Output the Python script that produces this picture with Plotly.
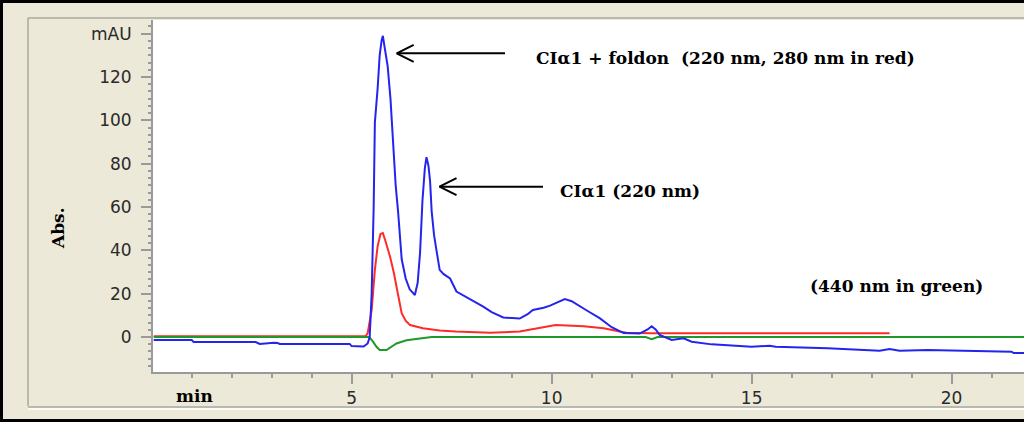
import plotly.graph_objects as go

# ---- data (retention time in min, absorbance in mAU) ----
t_220 = [0.05, 1.0, 1.05, 2.6, 2.7, 3.05, 3.15, 3.2, 4.95, 5.0, 5.3, 5.4, 5.45, 5.5, 5.55, 5.58,
         5.65, 5.7, 5.75, 5.78, 5.83, 5.9, 5.97, 6.03, 6.1, 6.16, 6.2, 6.25, 6.35, 6.45, 6.58,
         6.65, 6.71, 6.77, 6.83, 6.87, 6.92, 6.96, 7.0, 7.06, 7.12, 7.2, 7.3, 7.46, 7.62, 7.87,
         8.1, 8.29, 8.5, 8.79, 9.2, 9.4, 9.53, 9.8, 9.96, 10.15, 10.33, 10.5, 10.71, 10.9, 11.2,
         11.5, 11.8, 12.2, 12.4, 12.5, 12.6, 12.7, 13.0, 13.2, 13.3, 13.5, 14.0, 15.0, 15.3,
         15.45, 15.6, 16.9, 18.2, 18.45, 18.7, 19.4, 21.5, 21.55, 21.85]
a_220 = [-1.4, -1.4, -2.3, -2.3, -3.2, -2.6, -2.8, -3.2, -3.2, -4.2, -4.4, -3.0, 0, 20, 60, 99,
         115, 130, 137, 139, 133, 125, 110, 90, 70, 58, 48, 36, 27, 22, 19.4,
         25, 39, 63, 78, 83, 79, 72, 58, 47, 40, 31, 29, 27, 21, 18.5,
         16, 14, 11.5, 9, 8.5, 10.5, 12.5, 13.5, 14.5, 16, 17.5, 16.5, 14, 12, 8.7,
         4.5, 1.8, 1.6, 3.5, 5, 3.5, 1, -1.4, -0.8, -0.6, -2.2, -3.4, -4.5, -4.0,
         -4.0, -4.5, -5.2, -6.3, -5.5, -6.3, -6.0, -6.8, -7.4, -7.4]

t_280 = [0.05, 5.35, 5.4, 5.5, 5.58, 5.65, 5.72, 5.78, 5.85, 5.96, 6.05, 6.12, 6.25, 6.35, 6.46,
         6.78, 7.2, 7.6, 8.46, 9.2, 9.7, 10.1, 10.8, 11.3, 11.7, 11.87, 12.5, 18.45]
a_280 = [0.3, 0.3, 1.8, 12.5, 31, 42, 47.5, 48, 44, 37, 30, 23, 11, 7.5, 5.5,
         4, 3, 2.5, 2, 2.5, 4, 5.5, 5, 4, 2.5, 2, 1.7, 1.7]

t_440 = [0.05, 5.42, 5.46, 5.53, 5.62, 5.7, 5.87, 6.0, 6.12, 6.37, 6.87, 7.0, 12.35, 12.5, 12.65, 21.85]
a_440 = [0, 0, -0.5, -2, -4.5, -6, -6, -4.5, -3, -1.5, -0.3, 0, 0, -1, 0, 0]

y_tickvals = [0, 20, 40, 60, 80, 100, 120, 140]
y_ticktext = ["0", "20", "40", "60", "80", "100", "120", "mAU"]
x_tickvals = [5, 10, 15, 20]
x_ticktext = ["5", "10", "15", "20"]

# ---- layout geometry helpers (pixel -> paper) ----
L, T, W, H = 153, 20, 871, 352
def px(x):
    return (x - L) / W
def py(y):
    return (T + H - y) / H

fig = go.Figure()
fig.add_trace(go.Scatter(x=t_280, y=a_280, mode="lines", line=dict(color="#ff2a2a", width=2),
                         name="280 nm", showlegend=False))
fig.add_trace(go.Scatter(x=t_440, y=a_440, mode="lines", line=dict(color="#1f9a2a", width=2),
                         name="440 nm", showlegend=False))
fig.add_trace(go.Scatter(x=t_220, y=a_220, mode="lines", line=dict(color="#2424ee", width=2),
                         name="220 nm", showlegend=False))

tickfont = dict(family="DejaVu Sans", size=17, color="#2a2a2a")
fig.update_xaxes(range=[0.0325, 21.81], tickvals=x_tickvals, ticktext=x_ticktext,
                 showgrid=False, zeroline=False, showline=True, linecolor="#9a9a9a", linewidth=2,
                 ticks="outside", ticklen=10, tickwidth=2, tickcolor="#9a9a9a",
                 minor=dict(dtick=1, tick0=0, ticklen=4, tickwidth=2, tickcolor="#9a9a9a", ticks="outside"),
                 tickfont=tickfont, ticklabelstandoff=0)
fig.update_yaxes(range=[-16.15, 146.3], tickvals=y_tickvals, ticktext=y_ticktext,
                 showgrid=False, zeroline=False, showline=True, linecolor="#9a9a9a", linewidth=2,
                 ticks="outside", ticklen=10, tickwidth=1.5, tickcolor="#9a9a9a",
                 minor=dict(dtick=20 / 6, tick0=0, ticklen=3, tickwidth=1.5, tickcolor="#9a9a9a", ticks="outside"),
                 tickfont=tickfont, ticklabelstandoff=6)

serif = dict(family="DejaVu Serif", size=17, color="black", weight="bold")
annotations = [
    dict(text="CI\u03b11 + foldon\u00a0 (220 nm, 280 nm in red)", x=px(725.5), y=py(58)),
    dict(text="CI\u03b11 (220 nm)", x=px(630), y=py(191)),
    dict(text="(440 nm in green)", x=px(896), y=py(286)),
    dict(text="min", x=px(194), y=py(396)),
]
for a in annotations:
    fig.add_annotation(xref="paper", yref="paper", showarrow=False, xanchor="center",
                       yanchor="middle", font=serif, **a)
fig.add_annotation(text="Abs.", xref="paper", yref="paper", x=px(58), y=py(228), showarrow=False,
                   textangle=-90, xanchor="center", yanchor="middle",
                   font=dict(family="DejaVu Serif", size=17, color="black", weight="bold"))

shapes = []
# arrows (shaft + open chevron)
for (tipx, tipy, tailx) in [(396.7, 53.3, 505), (439.5, 186.7, 543)]:
    shapes.append(dict(type="line", xref="paper", yref="paper", x0=px(tipx), y0=py(tipy),
                       x1=px(tailx), y1=py(tipy), line=dict(color="black", width=2)))
    for dy in (-8.5, 8.5):
        shapes.append(dict(type="line", xref="paper", yref="paper", x0=px(tipx), y0=py(tipy),
                           x1=px(tipx + 17), y1=py(tipy + dy), line=dict(color="black", width=2)))
# window frame
shapes.append(dict(type="rect", xref="paper", yref="paper", x0=px(1.5), y0=py(420.5),
                   x1=px(1100), y1=py(1.5), line=dict(color="black", width=3)))
shapes.append(dict(type="line", xref="paper", yref="paper", x0=px(28), y0=py(18),
                   x1=px(1100), y1=py(18), line=dict(color="#a8a8a0", width=1.5)))
shapes.append(dict(type="line", xref="paper", yref="paper", x0=px(28), y0=py(18),
                   x1=px(28), y1=py(406), line=dict(color="#a8a8a0", width=1.5)))
shapes.append(dict(type="line", xref="paper", yref="paper", x0=px(28), y0=py(407),
                   x1=px(1100), y1=py(407), line=dict(color="#a8a8a0", width=1.5)))
shapes.append(dict(type="line", xref="paper", yref="paper", x0=px(28), y0=py(409),
                   x1=px(1100), y1=py(409), line=dict(color="#fbfaf5", width=2)))

fig.update_layout(width=1024, height=422, margin=dict(l=L, r=1024 - L - W, t=T, b=422 - T - H),
                  paper_bgcolor="#ece9d8", plot_bgcolor="white", shapes=shapes, showlegend=False)

fig.write_html("out.html")
